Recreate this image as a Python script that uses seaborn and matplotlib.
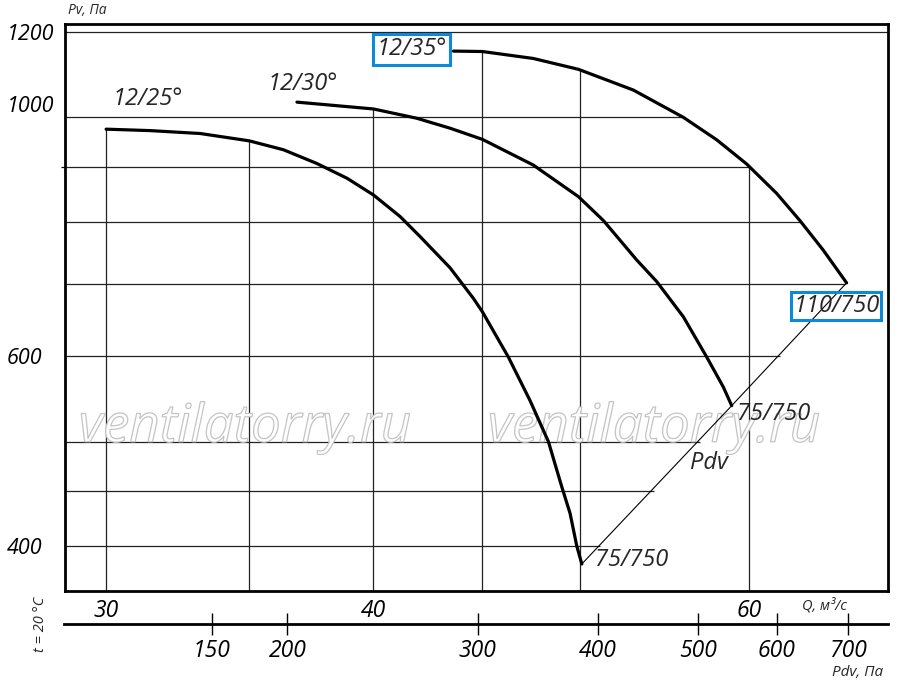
import numpy as np
import pandas as pd
import matplotlib
matplotlib.use("Agg")
import matplotlib.pyplot as plt
import matplotlib.patheffects as pe
from matplotlib.ticker import FixedLocator, NullLocator, NullFormatter
import seaborn as sns

# fan curves: Q, m3/s and Pv, Pa
q_25 = [30.0, 31.46, 33.2, 35.0, 36.32, 37.65, 38.89, 40.02, 41.18, 42.08, 43.46, 44.57,
        45.0, 46.28, 47.37, 48.32, 49.02, 49.46, 49.82, 50.09]
p_25 = [975, 972, 966, 951, 933, 906, 878, 847, 809, 775, 725, 679,
        660, 599, 546, 500, 454, 429, 400, 385]
q_30 = [36.85, 40.02, 41.93, 43.46, 45.0, 47.54, 49.91, 51.27, 53.15, 54.3,
        55.88, 57.31, 58.34, 58.87]
p_30 = [1033, 1018, 998, 977, 954, 903, 844, 802, 737, 704,
        653, 599, 562, 540]
q_35 = [43.62, 45.0, 47.54, 49.91, 52.95, 55.88, 57.93, 59.83, 61.79, 63.36, 64.97, 66.63]
p_35 = [1152, 1151, 1134, 1108, 1060, 1000, 953, 905, 850, 802, 753, 702]
curve_names = ["12/25°", "12/30°", "12/35°"]

# Pdv line joins the ends of the curves
pdv_q = [q_25[-1], q_30[-1], q_35[-1]]
pdv_p = [p_25[-1], p_30[-1], p_35[-1]]

grid_q = [30, 35, 40, 45, 50, 60]
grid_p = [1200, 1000, 900, 800, 700, 600, 500, 450, 400]
q_ticks = [30, 40, 60]
p_ticks = [400, 600, 1000, 1200]
pdv_ticks = [150, 200, 300, 400, 500, 600, 700]
pdv_tick_q = [33.65, 36.5, 44.8, 51.0, 56.8, 61.8, 66.7]  # where the Pdv ticks sit on the Q scale

BLUE = "#0a8ad8"

sns.set_style("white")
plt.rcParams["font.family"] = ["Open Sans", "DejaVu Sans"]
plt.rcParams["font.style"] = "italic"

df = pd.concat([
    pd.DataFrame({"Q": q, "Pv": p, "curve": n})
    for q, p, n in zip([q_25, q_30, q_35], [p_25, p_30, p_35], curve_names)
])

fig = plt.figure(figsize=(9, 6.93), dpi=100, facecolor="white")
ax = fig.add_axes([65 / 900, 102 / 693, 823 / 900, 567 / 693])
ax.set_xscale("log")
ax.set_yscale("log")
xlim = (28.70, 69.67)
ax.set_xlim(*xlim)
ax.set_ylim(363.4, 1220.7)

# grid only below the upper envelope of the curves
curves = [(q_25, p_25), (q_30, p_30), (q_35, p_35)]
for q in grid_q:
    tops = [np.interp(q, cq, cp) for cq, cp in curves if cq[0] <= q <= cq[-1]]
    ax.vlines(q, 363.4, max(tops), color="#222222", lw=0.9, zorder=1)

bound_q = np.array(q_35 + pdv_q[::-1][1:])
bound_p = np.array(p_35 + pdv_p[::-1][1:])
for p in grid_p:
    if p > bound_p.max():
        right = xlim[1]
    else:
        right = np.interp(np.log(p), np.log(bound_p[::-1]), bound_q[::-1])
    ax.hlines(p, xlim[0], right, color="#222222", lw=0.9, zorder=1)

sns.lineplot(data=df, x="Q", y="Pv", hue="curve", palette=["black"] * 3,
             estimator=None, sort=False, legend=False, lw=2.3, ax=ax, zorder=3)
ax.plot(pdv_q, pdv_p, color="black", lw=0.8, zorder=3)

for s in ax.spines.values():
    s.set_color("black")
    s.set_linewidth(2)

ax.xaxis.set_minor_locator(NullLocator())
ax.xaxis.set_minor_formatter(NullFormatter())
ax.set_xticks(q_ticks, [str(v) for v in q_ticks])
ax.tick_params(axis="x", length=0, pad=6, labelsize=16.5, colors="black")

ax.set_yticks(p_ticks, [str(v) for v in p_ticks])
ax.yaxis.set_minor_locator(FixedLocator([900, 1000]))
ax.yaxis.set_minor_formatter(NullFormatter())
ax.tick_params(axis="y", which="major", length=0, pad=41.8, labelsize=15.5, colors="black")
ax.tick_params(axis="y", which="minor", left=True, length=3, width=0.9, color="black")
for lab in ax.get_yticklabels():
    lab.set_ha("left")
    if lab.get_text() == "1000":
        lab.set_va("bottom")
ax.set_xlabel("")
ax.set_ylabel("")

# curve labels
ax.text(30.2, 1040, "12/25°", fontsize=17, ha="left", va="center")
ax.text(35.7, 1073, "12/30°", fontsize=17, ha="left", va="center")
ax.text(41.7, 1157, "12/35°", fontsize=17, ha="center", va="center", zorder=4,
        bbox=dict(boxstyle="square,pad=0.15", fc="white", ec=BLUE, lw=2.2))
ax.text(65.9, 668, "110/750", fontsize=17, ha="center", va="center", zorder=4,
        bbox=dict(boxstyle="square,pad=0.08", fc="none", ec=BLUE, lw=2.2))
ax.text(50.83, 388, "75/750", fontsize=17, ha="left", va="center")
ax.text(59.2, 530, "75/750", fontsize=17, ha="left", va="center")
ax.text(56.3, 478, "Pdv", fontsize=17, ha="left", va="center")

# watermark
for xf in [245 / 900, 654 / 900]:
    ax.text(xf, 1 - 428 / 693, "ventilatorry.ru", transform=fig.transFigure,
            fontsize=38, ha="center", va="center", zorder=2,
            path_effects=[pe.PathPatchEffect(edgecolor="#c4c4c4", facecolor="white", linewidth=0.9)])

# Pdv scale
ax2 = fig.add_axes([64 / 900, (693 - 624) / 693, 824 / 900, 0.0001])
ax2.set_xscale("log")
ax2.set_xlim(*xlim)
ax2.set_yticks([])
for side in ["top", "left", "right"]:
    ax2.spines[side].set_visible(False)
ax2.spines["bottom"].set_linewidth(2)
ax2.spines["bottom"].set_color("black")
ax2.xaxis.set_minor_locator(NullLocator())
ax2.set_xticks(pdv_tick_q, [str(v) for v in pdv_ticks])
ax2.tick_params(axis="x", bottom=True, direction="inout", length=16, width=1, pad=3,
                labelsize=16.5, colors="black")
ax2.patch.set_alpha(0)

fig.text(68 / 900, 1 - 10 / 693, "Pv, Па", fontsize=10, ha="left", va="center")
fig.text(802 / 900, 1 - 606 / 693, "Q, м³/с", fontsize=10.5, ha="left", va="center")
fig.text(883 / 900, 1 - 673 / 693, "Pdv, Па", fontsize=11, ha="right", va="center")
fig.text(40 / 900, 1 - 624 / 693, "t = 20 °C", fontsize=10.5, rotation=90, ha="center", va="center")

fig.savefig("out.png", dpi=100, facecolor="white")
